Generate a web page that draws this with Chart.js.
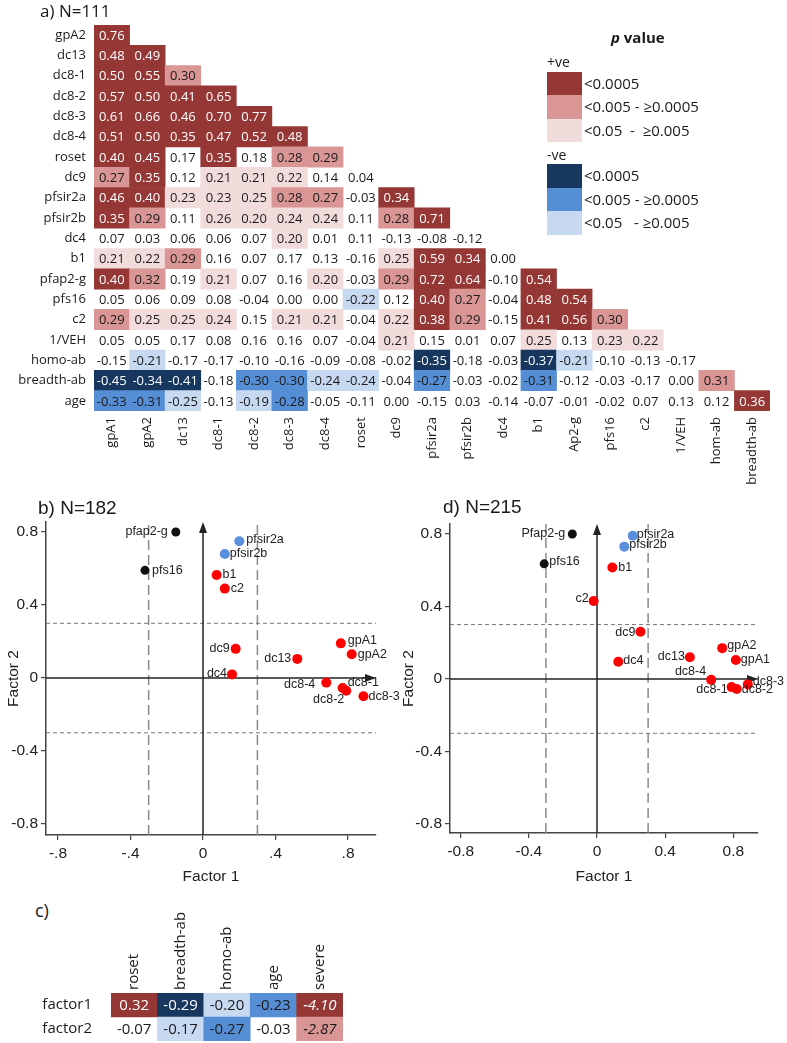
<!DOCTYPE html>
<html>
<head>
<meta charset="utf-8">
<script src="https://cdn.jsdelivr.net/npm/chart.js@4.4.1/dist/chart.umd.min.js"></script>
<style>
  body { margin: 0; background: #fff; }
  #page { position: relative; width: 787px; height: 1043px; overflow: hidden; background: #fff; color: #1a1a1a; font-family: "Open Sans", sans-serif; }
  #page canvas { position: absolute; }
  .txt { position: absolute; white-space: pre; line-height: 1; }
  .sw { position: absolute; width: 35px; }
</style>
</head>
<body>
<div id="page">
  <canvas id="matrix" width="787" height="490" style="left:0;top:0"></canvas>
  <div class="txt" style="left:40px;top:2px;font-size:17px;">a) N=111</div>
  <div id="legend"></div>

  <canvas id="plotB" width="400" height="410" style="left:0;top:480px"></canvas>
  <div class="txt" style="left:38px;top:498px;font-size:19px;font-family:'Liberation Sans',Arial,sans-serif;">b) N=182</div>

  <canvas id="plotD" width="392" height="410" style="left:395px;top:480px"></canvas>
  <div class="txt" style="left:443px;top:497px;font-size:19px;font-family:'Liberation Sans',Arial,sans-serif;">d) N=215</div>

  <div class="txt" style="left:35px;top:901px;font-size:18px;">c)</div>
  <canvas id="tableC" width="400" height="163" style="left:0;top:880px"></canvas>
</div>
<script>
// ---- a) correlation matrix ----
const rowLabels = ['gpA2', 'dc13', 'dc8-1', 'dc8-2', 'dc8-3', 'dc8-4', 'roset', 'dc9', 'pfsir2a', 'pfsir2b',
  'dc4', 'b1', 'pfap2-g', 'pfs16', 'c2', '1/VEH', 'homo-ab', 'breadth-ab', 'age'];
const colLabels = ['gpA1', 'gpA2', 'dc13', 'dc8-1', 'dc8-2', 'dc8-3', 'dc8-4', 'roset', 'dc9', 'pfsir2a',
  'pfsir2b', 'dc4', 'b1', 'Ap2-g', 'pfs16', 'c2', '1/VEH', 'hom-ab', 'breadth-ab'];

const corr = [
  [0.76],
  [0.48, 0.49],
  [0.50, 0.55, 0.30],
  [0.57, 0.50, 0.41, 0.65],
  [0.61, 0.66, 0.46, 0.70, 0.77],
  [0.51, 0.50, 0.35, 0.47, 0.52, 0.48],
  [0.40, 0.45, 0.17, 0.35, 0.18, 0.28, 0.29],
  [0.27, 0.35, 0.12, 0.21, 0.21, 0.22, 0.14, 0.04],
  [0.46, 0.40, 0.23, 0.23, 0.25, 0.28, 0.27, -0.03, 0.34],
  [0.35, 0.29, 0.11, 0.26, 0.20, 0.24, 0.24, 0.11, 0.28, 0.71],
  [0.07, 0.03, 0.06, 0.06, 0.07, 0.20, 0.01, 0.11, -0.13, -0.08, -0.12],
  [0.21, 0.22, 0.29, 0.16, 0.07, 0.17, 0.13, -0.16, 0.25, 0.59, 0.34, 0.00],
  [0.40, 0.32, 0.19, 0.21, 0.07, 0.16, 0.20, -0.03, 0.29, 0.72, 0.64, -0.10, 0.54],
  [0.05, 0.06, 0.09, 0.08, -0.04, 0.00, 0.00, -0.22, 0.12, 0.40, 0.27, -0.04, 0.48, 0.54],
  [0.29, 0.25, 0.25, 0.24, 0.15, 0.21, 0.21, -0.04, 0.22, 0.38, 0.29, -0.15, 0.41, 0.56, 0.30],
  [0.05, 0.05, 0.17, 0.08, 0.16, 0.16, 0.07, -0.04, 0.21, 0.15, 0.01, 0.07, 0.25, 0.13, 0.23, 0.22],
  [-0.15, -0.21, -0.17, -0.17, -0.10, -0.16, -0.09, -0.08, -0.02, -0.35, -0.18, -0.03, -0.37, -0.21, -0.10, -0.13, -0.17],
  [-0.45, -0.34, -0.41, -0.18, -0.30, -0.30, -0.24, -0.24, -0.04, -0.27, -0.03, -0.02, -0.31, -0.12, -0.03, -0.17, 0.00, 0.31],
  [-0.33, -0.31, -0.25, -0.13, -0.19, -0.28, -0.05, -0.11, 0.00, -0.15, 0.03, -0.14, -0.07, -0.01, -0.02, 0.07, 0.13, 0.12, 0.36]
];

// p value class: 3 <0.0005, 2 <0.005, 1 <0.05, 0 n.s.  (+ = +ve / red, - = -ve / blue)
const pClass = [
  [3],
  [3, 3],
  [3, 3, 2],
  [3, 3, 3, 3],
  [3, 3, 3, 3, 3],
  [3, 3, 3, 3, 3, 3],
  [3, 3, 0, 3, 0, 2, 2],
  [2, 3, 0, 1, 1, 1, 0, 0],
  [3, 3, 1, 1, 1, 2, 2, 0, 3],
  [3, 2, 0, 1, 1, 1, 1, 0, 2, 3],
  [0, 0, 0, 0, 0, 1, 0, 0, 0, 0, 0],
  [1, 1, 2, 0, 0, 0, 0, 0, 1, 3, 3, 0],
  [3, 2, 0, 1, 0, 0, 1, 0, 2, 3, 3, 0, 3],
  [0, 0, 0, 0, 0, 0, 0, -1, 0, 3, 2, 0, 3, 3],
  [2, 1, 1, 1, 0, 1, 1, 0, 1, 3, 2, 0, 3, 3, 2],
  [0, 0, 0, 0, 0, 0, 0, 0, 1, 0, 0, 0, 1, 0, 1, 1],
  [0, -1, 0, 0, 0, 0, 0, 0, 0, -3, 0, 0, -3, -1, 0, 0, 0],
  [-3, -3, -3, 0, -2, -2, -1, -1, 0, -2, 0, 0, -2, 0, 0, 0, 0, 2],
  [-2, -2, -1, 0, -1, -2, 0, 0, 0, 0, 0, 0, 0, 0, 0, 0, 0, 0, 3]
];

const legendPos = ['<0.0005', '<0.005 - \u22650.0005', '<0.05  -  \u22650.005'];
const legendNeg = ['<0.0005', '<0.005 - \u22650.0005', '<0.05   - \u22650.005'];

// ---- c) factor associations ----
const factorRows = ['factor1', 'factor2'];
const factorCols = ['roset', 'breadth-ab', 'homo-ab', 'age', 'severe'];
const factorVals = [
  [0.32, -0.29, -0.20, -0.23, -4.10],
  [-0.07, -0.17, -0.27, -0.03, -2.87]
];
const factorClass = [
  [3, -3, -1, -2, 3],
  [0, -1, -2, 0, 2]
];

// ---- b) loadings, N=182 ----
const namesB = ['pfap2-g', 'pfs16', 'pfsir2a', 'pfsir2b', 'b1', 'c2', 'dc9', 'dc4', 'dc13', 'gpA1', 'gpA2', 'dc8-4', 'dc8-1', 'dc8-2', 'dc8-3'];
const factor1B = [-0.15, -0.32, 0.20, 0.12, 0.075, 0.12, 0.18, 0.16, 0.52, 0.76, 0.82, 0.68, 0.77, 0.79, 0.885];
const factor2B = [0.80, 0.59, 0.75, 0.68, 0.565, 0.49, 0.16, 0.02, 0.105, 0.19, 0.13, -0.025, -0.055, -0.07, -0.10];

// ---- d) loadings, N=215 ----
const namesD = ['Pfap2-g', 'pfs16', 'pfsir2a', 'pfsir2b', 'b1', 'c2', 'dc9', 'dc4', 'dc13', 'gpA2', 'gpA1', 'dc8-4', 'dc8-1', 'dc8-2', 'dc8-3'];
const factor1D = [-0.145, -0.31, 0.21, 0.16, 0.09, -0.02, 0.255, 0.125, 0.545, 0.735, 0.815, 0.67, 0.79, 0.82, 0.885];
const factor2D = [0.80, 0.635, 0.79, 0.73, 0.615, 0.43, 0.26, 0.095, 0.12, 0.17, 0.105, -0.005, -0.045, -0.055, -0.03];

// marker groups (same order as names)
const groupOf = ['ap2', 'ap2', 'sir2', 'sir2', 'var', 'var', 'var', 'var', 'var', 'var', 'var', 'var', 'var', 'var', 'var'];
const cutoff = 0.3;

// ---- styling ----
const palette = {
  pos: ['rgba(0,0,0,0)', '#f2dcdb', '#d99694', '#953735'],
  neg: ['rgba(0,0,0,0)', '#c6d9f1', '#558ed5', '#17375e']
};
const groupColours = { ap2: '#111111', sir2: '#5a8fdc', var: '#ff0000' };
const groupRadius = { ap2: 4.5, sir2: 5, var: 5 };
const sansFont = "'Open Sans', sans-serif";
const arialFont = "'Liberation Sans', Arial, sans-serif";

// label offset [dx, dy] relative to the point; negative dx = text to the left
const placeB = {
  'pfap2-g': [-8, 0], 'pfs16': [7, 0], 'pfsir2a': [7, -2], 'pfsir2b': [5, 0], 'b1': [6, 0], 'c2': [6, 0],
  'dc9': [-6, 0], 'dc4': [-5, -1], 'dc13': [-6, 0], 'gpA1': [7, -3], 'gpA2': [6, 0],
  'dc8-4': [-11, 2], 'dc8-1': [5, -6], 'dc8-2': [-2, 9], 'dc8-3': [5, 0]
};
const placeD = {
  'Pfap2-g': [-7, 0], 'pfs16': [5, -2], 'pfsir2a': [4, -1], 'pfsir2b': [5, -2], 'b1': [6, 0], 'c2': [-5, -2],
  'dc9': [-5, 1], 'dc4': [5, -1], 'dc13': [-5, -1], 'gpA2': [5, -3], 'gpA1': [5, 0],
  'dc8-4': [-5, -8], 'dc8-1': [-4, 2], 'dc8-2': [5, 1], 'dc8-3': [5, -3]
};

function cellColour(cls) {
  if (!cls) return 'rgba(0,0,0,0)';
  return cls > 0 ? palette.pos[cls] : palette.neg[-cls];
}

// legend (+ve / -ve swatches)
function buildLegend() {
  const el = document.getElementById('legend');
  let html = '<div class="txt" style="left:611px;top:30px;font-size:15px;font-weight:bold;"><i>p</i> value</div>';
  html += '<div class="txt" style="left:547px;top:55px;font-size:14px;">+ve</div>';
  html += '<div class="txt" style="left:547px;top:148px;font-size:14px;">-ve</div>';
  const tops = [[72, 95.3, 118.6], [164, 187.7, 211.4]];
  [legendPos, legendNeg].forEach((texts, s) => {
    texts.forEach((t, i) => {
      const cls = 3 - i;
      const col = s === 0 ? palette.pos[cls] : palette.neg[cls];
      const top = tops[s][i];
      html += `<div class="sw" style="left:547px;top:${top}px;height:23.7px;background:${col}"></div>`;
      html += `<div class="txt" style="left:584px;top:${top + 4}px;font-size:15px;">${t.replace('<', '&lt;')}</div>`;
    });
  });
  el.innerHTML = html;
}

const cellText = {
  id: 'cellText',
  afterDatasetsDraw(chart, args, opts) {
    const { ctx } = chart;
    const ds = chart.data.datasets[0];
    ctx.save();
    ctx.textAlign = 'center';
    ctx.textBaseline = 'middle';
    chart.getDatasetMeta(0).data.forEach((bar, i) => {
      const raw = ds.data[i];
      const { x, y } = bar.getCenterPoint();
      const italic = opts.italicCols && opts.italicCols.includes(raw.col);
      ctx.font = (italic ? 'italic ' : '') + opts.size + 'px ' + sansFont;
      ctx.fillStyle = Math.abs(raw.cls) === 3 ? '#ffffff' : '#1a1a1a';
      ctx.fillText(raw.v.toFixed(2), x, y + 1);
    });
    ctx.restore();
  }
};

function heatChart(id, rows, cols, vals, classes, o) {
  const cells = [];
  vals.forEach((row, r) => row.forEach((v, c) => {
    cells.push({ x: [c, c + 1], y: rows[r], v: v, cls: classes[r][c], col: cols[c] });
  }));
  return new Chart(document.getElementById(id), {
    type: 'bar',
    data: {
      labels: rows,
      datasets: [{
        data: cells,
        backgroundColor: ctx => cellColour(ctx.raw ? ctx.raw.cls : 0),
        borderWidth: 0,
        barPercentage: 1,
        categoryPercentage: 1
      }]
    },
    options: {
      indexAxis: 'y',
      responsive: false,
      animation: false,
      devicePixelRatio: 1,
      layout: { padding: o.padding },
      plugins: {
        legend: { display: false },
        tooltip: { enabled: false },
        cellText: { size: o.size, italicCols: o.italicCols }
      },
      scales: {
        x: {
          type: 'linear',
          position: o.xPos,
          min: 0,
          max: cols.length,
          afterBuildTicks: axis => { axis.ticks = cols.map((_, i) => ({ value: i + 0.5 })); },
          afterFit: axis => { axis.height = o.xHeight; axis.paddingLeft = 0; axis.paddingRight = 0; },
          grid: { display: false, drawTicks: false },
          border: { display: false },
          ticks: {
            autoSkip: false,
            minRotation: 90,
            maxRotation: 90,
            padding: o.xPad,
            labelOffset: o.xShift || 0,
            color: '#1a1a1a',
            font: { family: sansFont, size: o.labelSize },
            callback: v => cols[Math.floor(v)]
          }
        },
        y: {
          type: 'category',
          afterFit: axis => { axis.width = o.yWidth; axis.paddingTop = 0; axis.paddingBottom = 0; },
          grid: { display: false, drawTicks: false },
          border: { display: false },
          ticks: { autoSkip: false, padding: o.yPad, color: '#1a1a1a', font: { family: sansFont, size: o.labelSize } }
        }
      }
    },
    plugins: [cellText]
  });
}

const loadingAxes = {
  id: 'loadingAxes',
  beforeDatasetsDraw(chart) {
    const { ctx, chartArea: a, scales: { x, y } } = chart;
    const line = (x1, y1, x2, y2) => { ctx.beginPath(); ctx.moveTo(x1, y1); ctx.lineTo(x2, y2); ctx.stroke(); };
    ctx.save();
    ctx.strokeStyle = '#8a8a8a';
    ctx.lineWidth = 1.5;
    ctx.setLineDash([10, 5]);
    [-cutoff, cutoff].forEach(v => { const px = x.getPixelForValue(v); line(px, a.bottom, px, a.top); });
    ctx.strokeStyle = '#777';
    ctx.lineWidth = 1;
    ctx.setLineDash([4, 3]);
    [-cutoff, cutoff].forEach(v => { const py = y.getPixelForValue(v); line(a.left, py, a.right, py); });

    ctx.setLineDash([]);
    ctx.strokeStyle = '#222';
    ctx.fillStyle = '#222';
    ctx.lineWidth = 1.5;
    const x0 = x.getPixelForValue(0), y0 = y.getPixelForValue(0);
    line(x0, a.bottom, x0, a.top + 4);
    line(a.left, y0, a.right - 4, y0);
    ctx.beginPath();
    ctx.moveTo(x0, a.top); ctx.lineTo(x0 - 4, a.top + 11); ctx.lineTo(x0 + 4, a.top + 11); ctx.closePath(); ctx.fill();
    ctx.beginPath();
    ctx.moveTo(a.right, y0); ctx.lineTo(a.right - 11, y0 - 4); ctx.lineTo(a.right - 11, y0 + 4); ctx.closePath(); ctx.fill();
    ctx.restore();
  }
};

const pointNames = {
  id: 'pointNames',
  afterDatasetsDraw(chart, args, opts) {
    const { ctx } = chart;
    ctx.save();
    ctx.font = '12.5px ' + arialFont;
    ctx.fillStyle = '#222';
    ctx.textBaseline = 'middle';
    chart.data.datasets.forEach((ds, di) => {
      chart.getDatasetMeta(di).data.forEach((pt, i) => {
        const name = ds.data[i].name;
        const [dx, dy] = opts.place[name] || [6, 0];
        ctx.textAlign = dx < 0 ? 'right' : 'left';
        ctx.fillText(name, pt.x + dx, pt.y + dy);
      });
    });
    ctx.restore();
  }
};

function loadingPlot(id, names, f1, f2, place, fmtX, box) {
  const datasets = ['var', 'sir2', 'ap2'].map(g => ({
    data: names.map((n, i) => ({ x: f1[i], y: f2[i], name: n, g: groupOf[i] })).filter(p => p.g === g),
    backgroundColor: groupColours[g],
    borderWidth: 0,
    pointRadius: groupRadius[g]
  }));
  const axisTicks = [-0.8, -0.4, 0, 0.4, 0.8];
  const tickFont = { family: arialFont, size: 15.5 };
  return new Chart(document.getElementById(id), {
    type: 'scatter',
    data: { datasets },
    options: {
      responsive: false,
      animation: false,
      devicePixelRatio: 1,
      layout: { padding: { top: box.padTop, right: box.padRight, left: 0, bottom: 0 } },
      plugins: { legend: { display: false }, tooltip: { enabled: false }, pointNames: { place } },
      scales: {
        x: {
          min: box.x[0], max: box.x[1],
          afterBuildTicks: axis => { axis.ticks = axisTicks.map(v => ({ value: v })); },
          afterFit: axis => { axis.height = box.xHeight; },
          grid: { drawOnChartArea: false, tickLength: 5, color: '#444', lineWidth: 1.2 },
          border: { color: '#444', width: 1.5 },
          ticks: { color: '#222', font: tickFont, padding: 4, callback: fmtX },
          title: { display: true, text: 'Factor 1', color: '#222', font: { family: arialFont, size: 15.5 }, padding: { top: 2, bottom: 4 } }
        },
        y: {
          min: box.y[0], max: box.y[1],
          afterBuildTicks: axis => { axis.ticks = axisTicks.map(v => ({ value: v })); },
          afterFit: axis => { axis.width = box.yWidth; },
          grid: { drawOnChartArea: false, tickLength: 5, color: '#444', lineWidth: 1.2 },
          border: { color: '#444', width: 1.5 },
          ticks: { color: '#222', font: tickFont, padding: 3, callback: v => (v === 0 ? '0' : v.toFixed(1)) },
          title: { display: true, text: 'Factor 2', color: '#222', font: { family: arialFont, size: 15.5 }, padding: { top: 4, bottom: 2 } }
        }
      }
    },
    plugins: [loadingAxes, pointNames]
  });
}

buildLegend();

heatChart('matrix', rowLabels, colLabels, corr, pClass, {
  xPos: 'bottom', xHeight: 79, yWidth: 94, xPad: 6, yPad: 8,
  padding: { top: 25, right: 17, left: 0, bottom: 0 },
  size: 13, labelSize: 13
});

heatChart('tableC', factorRows, factorCols, factorVals, factorClass, {
  xPos: 'top', xHeight: 113, yWidth: 111, xPad: 3, yPad: 19, xShift: 18,
  padding: { top: 0, right: 57, left: 0, bottom: 2 },
  size: 15, labelSize: 15, italicCols: ['severe']
});

loadingPlot('plotB', namesB, factor1B, factor2B, placeB,
  v => (v === 0 ? '0' : (v < 0 ? '-' : '') + Math.abs(v).toFixed(1).replace(/^0/, '')),
  { x: [-0.866, 0.954], y: [-0.86, 0.855], padTop: 42, padRight: 24, yWidth: 46, xHeight: 55 });

loadingPlot('plotD', namesD, factor1D, factor2D, placeD,
  v => (v === 0 ? '0' : v.toFixed(1)),
  { x: [-0.863, 0.945], y: [-0.85, 0.855], padTop: 44, padRight: 29, yWidth: 55, xHeight: 57 });
</script>
</body>
</html>
